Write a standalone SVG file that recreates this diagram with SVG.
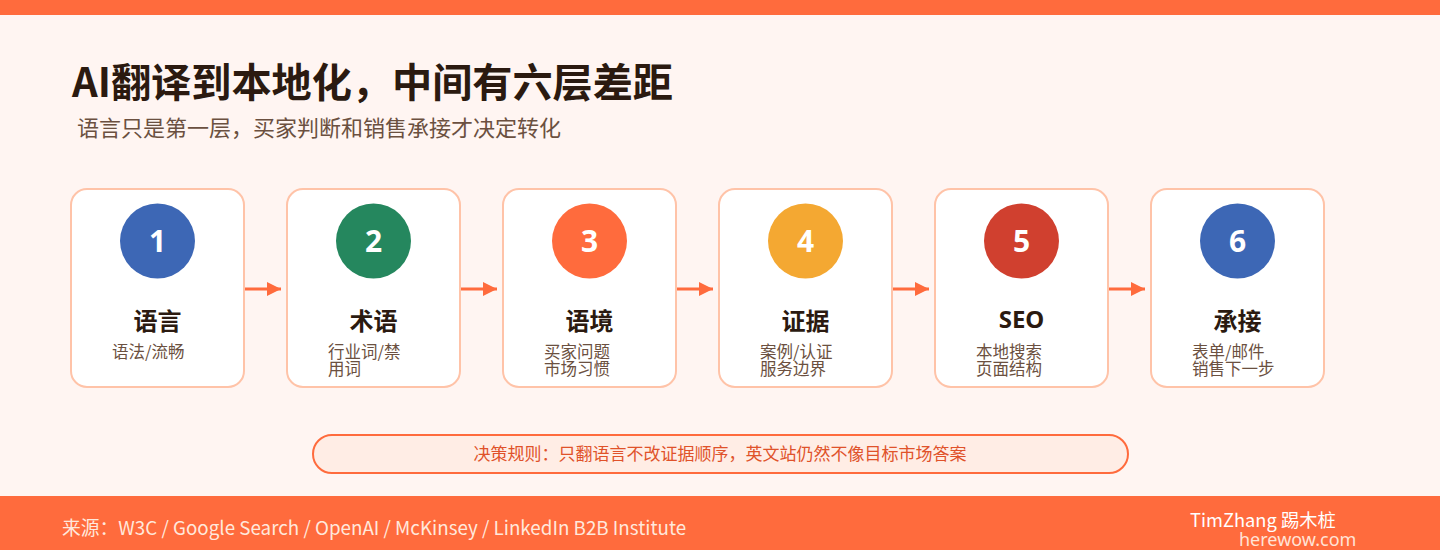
<svg xmlns="http://www.w3.org/2000/svg" width="1440" height="550" viewBox="0 0 1440 550">
<defs>
<style>
.card{fill:#FFFFFF;stroke:#FFC3A8;stroke-width:2}
.num{font-family:"Noto Sans","Noto Sans CJK SC",sans-serif;font-size:30px;font-weight:700;fill:#FFFFFF;text-anchor:middle}
.ttl{font-family:"Noto Sans CJK SC",sans-serif;font-size:24px;font-weight:700;fill:#2B1A10;text-anchor:middle}
.sub{font-family:"Noto Sans CJK SC",sans-serif;font-size:16.5px;fill:#6B5040}
.conn{stroke:#FF6B3D;stroke-width:3;fill:none}
</style>
<marker id="ah" viewBox="0 0 10 10" refX="10" refY="5" markerWidth="14" markerHeight="14" markerUnits="userSpaceOnUse" orient="auto">
<path d="M0,0 L10,5 L0,10 z" fill="#FF6B3D"/>
</marker>
</defs>
<rect x="0" y="0" width="1440" height="550" fill="#FFF5F2"/>
<rect x="0" y="0" width="1440" height="15" fill="#FF6B3D"/>
<text x="72" y="97" font-family="Noto Sans CJK SC,sans-serif" font-size="40" font-weight="700" fill="#2B1A10" textLength="601" lengthAdjust="spacingAndGlyphs">AI翻译到本地化，中间有六层差距</text>
<text x="77" y="136" font-family="Noto Sans CJK SC,sans-serif" font-size="22" fill="#6B5040">语言只是第一层，买家判断和销售承接才决定转化</text>

<g id="connectors">
<line class="conn" x1="244" y1="289" x2="281" y2="289" marker-end="url(#ah)"/>
<line class="conn" x1="460" y1="289" x2="497" y2="289" marker-end="url(#ah)"/>
<line class="conn" x1="676" y1="289" x2="713" y2="289" marker-end="url(#ah)"/>
<line class="conn" x1="892" y1="289" x2="929" y2="289" marker-end="url(#ah)"/>
<line class="conn" x1="1108" y1="289" x2="1145" y2="289" marker-end="url(#ah)"/>
</g>

<g id="node1">
<rect class="card" x="71" y="189" width="173" height="198" rx="16"/>
<circle cx="157.5" cy="241" r="37.5" fill="#3D67B5"/>
<text class="num" x="157.5" y="252">1</text>
<text class="ttl" x="157.5" y="330">语言</text>
<text class="sub" x="112" y="358">语法/流畅</text>
</g>
<g id="node2">
<rect class="card" x="287" y="189" width="173" height="198" rx="16"/>
<circle cx="373.5" cy="241" r="37.5" fill="#25875E"/>
<text class="num" x="373.5" y="252">2</text>
<text class="ttl" x="373.5" y="330">术语</text>
<text class="sub" x="328" y="358">行业词/禁<tspan x="328" dy="17">用词</tspan></text>
</g>
<g id="node3">
<rect class="card" x="503" y="189" width="173" height="198" rx="16"/>
<circle cx="589.5" cy="241" r="37.5" fill="#FF6B3D"/>
<text class="num" x="589.5" y="252">3</text>
<text class="ttl" x="589.5" y="330">语境</text>
<text class="sub" x="544" y="358">买家问题<tspan x="544" dy="17">市场习惯</tspan></text>
</g>
<g id="node4">
<rect class="card" x="719" y="189" width="173" height="198" rx="16"/>
<circle cx="805.5" cy="241" r="37.5" fill="#F4A832"/>
<text class="num" x="805.5" y="252">4</text>
<text class="ttl" x="805.5" y="330">证据</text>
<text class="sub" x="760" y="358">案例/认证<tspan x="760" dy="17">服务边界</tspan></text>
</g>
<g id="node5">
<rect class="card" x="935" y="189" width="173" height="198" rx="16"/>
<circle cx="1021.5" cy="241" r="37.5" fill="#D0402F"/>
<text class="num" x="1021.5" y="252">5</text>
<text class="ttl" x="1021.5" y="328" style="font-family:'Noto Sans',sans-serif">SEO</text>
<text class="sub" x="976" y="358">本地搜索<tspan x="976" dy="17">页面结构</tspan></text>
</g>
<g id="node6">
<rect class="card" x="1151" y="189" width="173" height="198" rx="16"/>
<circle cx="1237.5" cy="241" r="37.5" fill="#3D67B5"/>
<text class="num" x="1237.5" y="252">6</text>
<text class="ttl" x="1237.5" y="330">承接</text>
<text class="sub" x="1192" y="358">表单/邮件<tspan x="1192" dy="17">销售下一步</tspan></text>
</g>

<g id="rule">
<rect x="313" y="435" width="815" height="38" rx="19" fill="#FFEDE5" stroke="#FF6B3D" stroke-width="2"/>
<text x="720" y="460" font-family="Noto Sans CJK SC,sans-serif" font-size="17" fill="#E0522A" text-anchor="middle">决策规则：只翻语言不改证据顺序，英文站仍然不像目标市场答案</text>
</g>

<rect x="0" y="496" width="1440" height="54" fill="#FF6B3D"/>
<text x="62" y="535" font-family="Noto Sans CJK SC,sans-serif" font-size="18.8" fill="#FFE8DC">来源：W3C / Google Search / OpenAI / McKinsey / LinkedIn B2B Institute</text>
<text x="1190" y="527" font-family="Noto Sans CJK SC,sans-serif" font-size="18.3" fill="#FFFFFF">TimZhang 踢木桩</text>
<text x="1239" y="546" font-family="Noto Sans,sans-serif" font-size="18" fill="#FFE3D6">herewow.com</text>
</svg>
